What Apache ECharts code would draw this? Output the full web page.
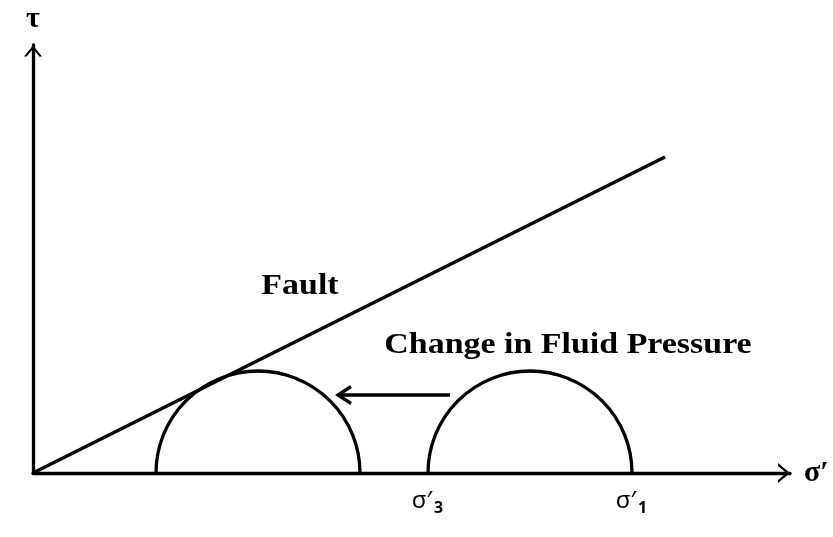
<!DOCTYPE html>
<html><head><meta charset="utf-8">
<script src="https://cdn.jsdelivr.net/npm/echarts@6/dist/echarts.min.js"></script>
<style>html,body{margin:0;padding:0;background:#fff}#c{width:833px;height:537px}</style>
</head><body><div id="c"></div>
<script>
// Data (arbitrary stress units)
const faultLine = [[0, 0], [63.2, 31.6]];
const circleBefore = [12.3, 32.7];   // [σ'3, σ'1] after fluid pressure change
const circleAfter = [39.5, 59.9];    // [σ'3, σ'1] original
const circles = [circleBefore, circleAfter];
const stressLabels = [[39.5, '3'], [59.9, '1']];
const shiftArrow = [[41.7, 7.8, 30.5]]; // [fromX, y, toX]
const axisRange = { xMax: 75.7, yMax: 42.8 };

const chevron = 'path://M10,0 L20,12 L17,12 L10,3.6 L3,12 L0,12 Z';
const serifBold = 'bold 29px "Liberation Serif", "Times New Roman", serif';
const LW = 3.3;

const chart = echarts.init(document.getElementById('c'), null, { renderer: 'canvas' });
chart.setOption({
  animation: false,
  backgroundColor: '#fff',
  grid: { left: 33, top: 45, right: 43, bottom: 64 },
  xAxis: {
    type: 'value', min: 0, max: axisRange.xMax,
    splitLine: { show: false }, axisTick: { show: false }, axisLabel: { show: false },
    axisLine: { show: true, onZero: false, lineStyle: { color: '#000', width: LW },
      symbol: ['none', chevron], symbolSize: [20, 12], symbolOffset: [0, -6] },
    name: 'σ′', nameLocation: 'end', nameGap: 14,
    nameTextStyle: { fontFamily: '"Liberation Serif", serif', fontWeight: 'bold', fontSize: 30, color: '#000', align: 'left', verticalAlign: 'middle' }
  },
  yAxis: {
    type: 'value', min: 0, max: axisRange.yMax,
    splitLine: { show: false }, axisTick: { show: false }, axisLabel: { show: false },
    axisLine: { show: true, onZero: false, lineStyle: { color: '#000', width: LW },
      symbol: ['none', chevron], symbolSize: [18, 13], symbolOffset: [0, -6] },
    name: 'τ', nameLocation: 'end', nameGap: 11,
    nameTextStyle: { fontFamily: '"Liberation Serif", serif', fontWeight: 'bold', fontSize: 30, color: '#000', align: 'center', verticalAlign: 'bottom' }
  },
  series: [
    {
      type: 'line', data: faultLine, symbol: 'none',
      lineStyle: { color: '#000', width: LW }, z: 3
    },
    {
      type: 'custom', data: circles, z: 3,
      renderItem: function (params, api) {
        const s3 = api.value(0), s1 = api.value(1);
        const c = api.coord([(s3 + s1) / 2, 0]);
        const r = api.size([(s1 - s3) / 2, 0])[0];
        return {
          type: 'arc',
          shape: { cx: c[0], cy: c[1], r: r, startAngle: Math.PI, endAngle: 2 * Math.PI, clockwise: true },
          style: { stroke: '#000', lineWidth: LW, fill: null }
        };
      }
    },
    {
      type: 'custom', data: shiftArrow, z: 3,
      renderItem: function (params, api) {
        const p0 = api.coord([api.value(0), api.value(1)]);
        const p1 = api.coord([api.value(2), api.value(1)]);
        return {
          type: 'group',
          children: [
            { type: 'line', shape: { x1: p0[0], y1: p0[1], x2: p1[0] + 1, y2: p1[1] },
              style: { stroke: '#000', lineWidth: LW } },
            { type: 'polyline', shape: { points: [[p1[0] + 13, p1[1] - 8.5], [p1[0], p1[1]], [p1[0] + 13, p1[1] + 8.5]] },
              style: { stroke: '#000', lineWidth: LW, fill: null } }
          ]
        };
      }
    },
    {
      type: 'custom', data: stressLabels, z: 3,
      renderItem: function (params, api) {
        const p = api.coord([api.value(0), 0]);
        const sub = stressLabels[params.dataIndex][1];
        return {
          type: 'group',
          children: [
            { type: 'text', x: p[0] + 4, y: p[1] + 28,
              style: { text: 'σ′', font: '24px "Noto Sans", sans-serif', fill: '#000', align: 'right', verticalAlign: 'middle' } },
            { type: 'text', x: p[0] + 6, y: p[1] + 35,
              style: { text: sub, font: 'bold 16px "Noto Sans", sans-serif', fill: '#000', align: 'left', verticalAlign: 'middle' } }
          ]
        };
      }
    }
  ],
  graphic: [
    { type: 'text', x: 300, y: 287, scaleX: 1.17,
      style: { text: 'Fault', font: serifBold, fill: '#000', align: 'center', verticalAlign: 'middle' } },
    { type: 'text', x: 568, y: 346, scaleX: 1.17,
      style: { text: 'Change in Fluid Pressure', font: serifBold, fill: '#000', align: 'center', verticalAlign: 'middle' } }
  ]
});
</script></body></html>
